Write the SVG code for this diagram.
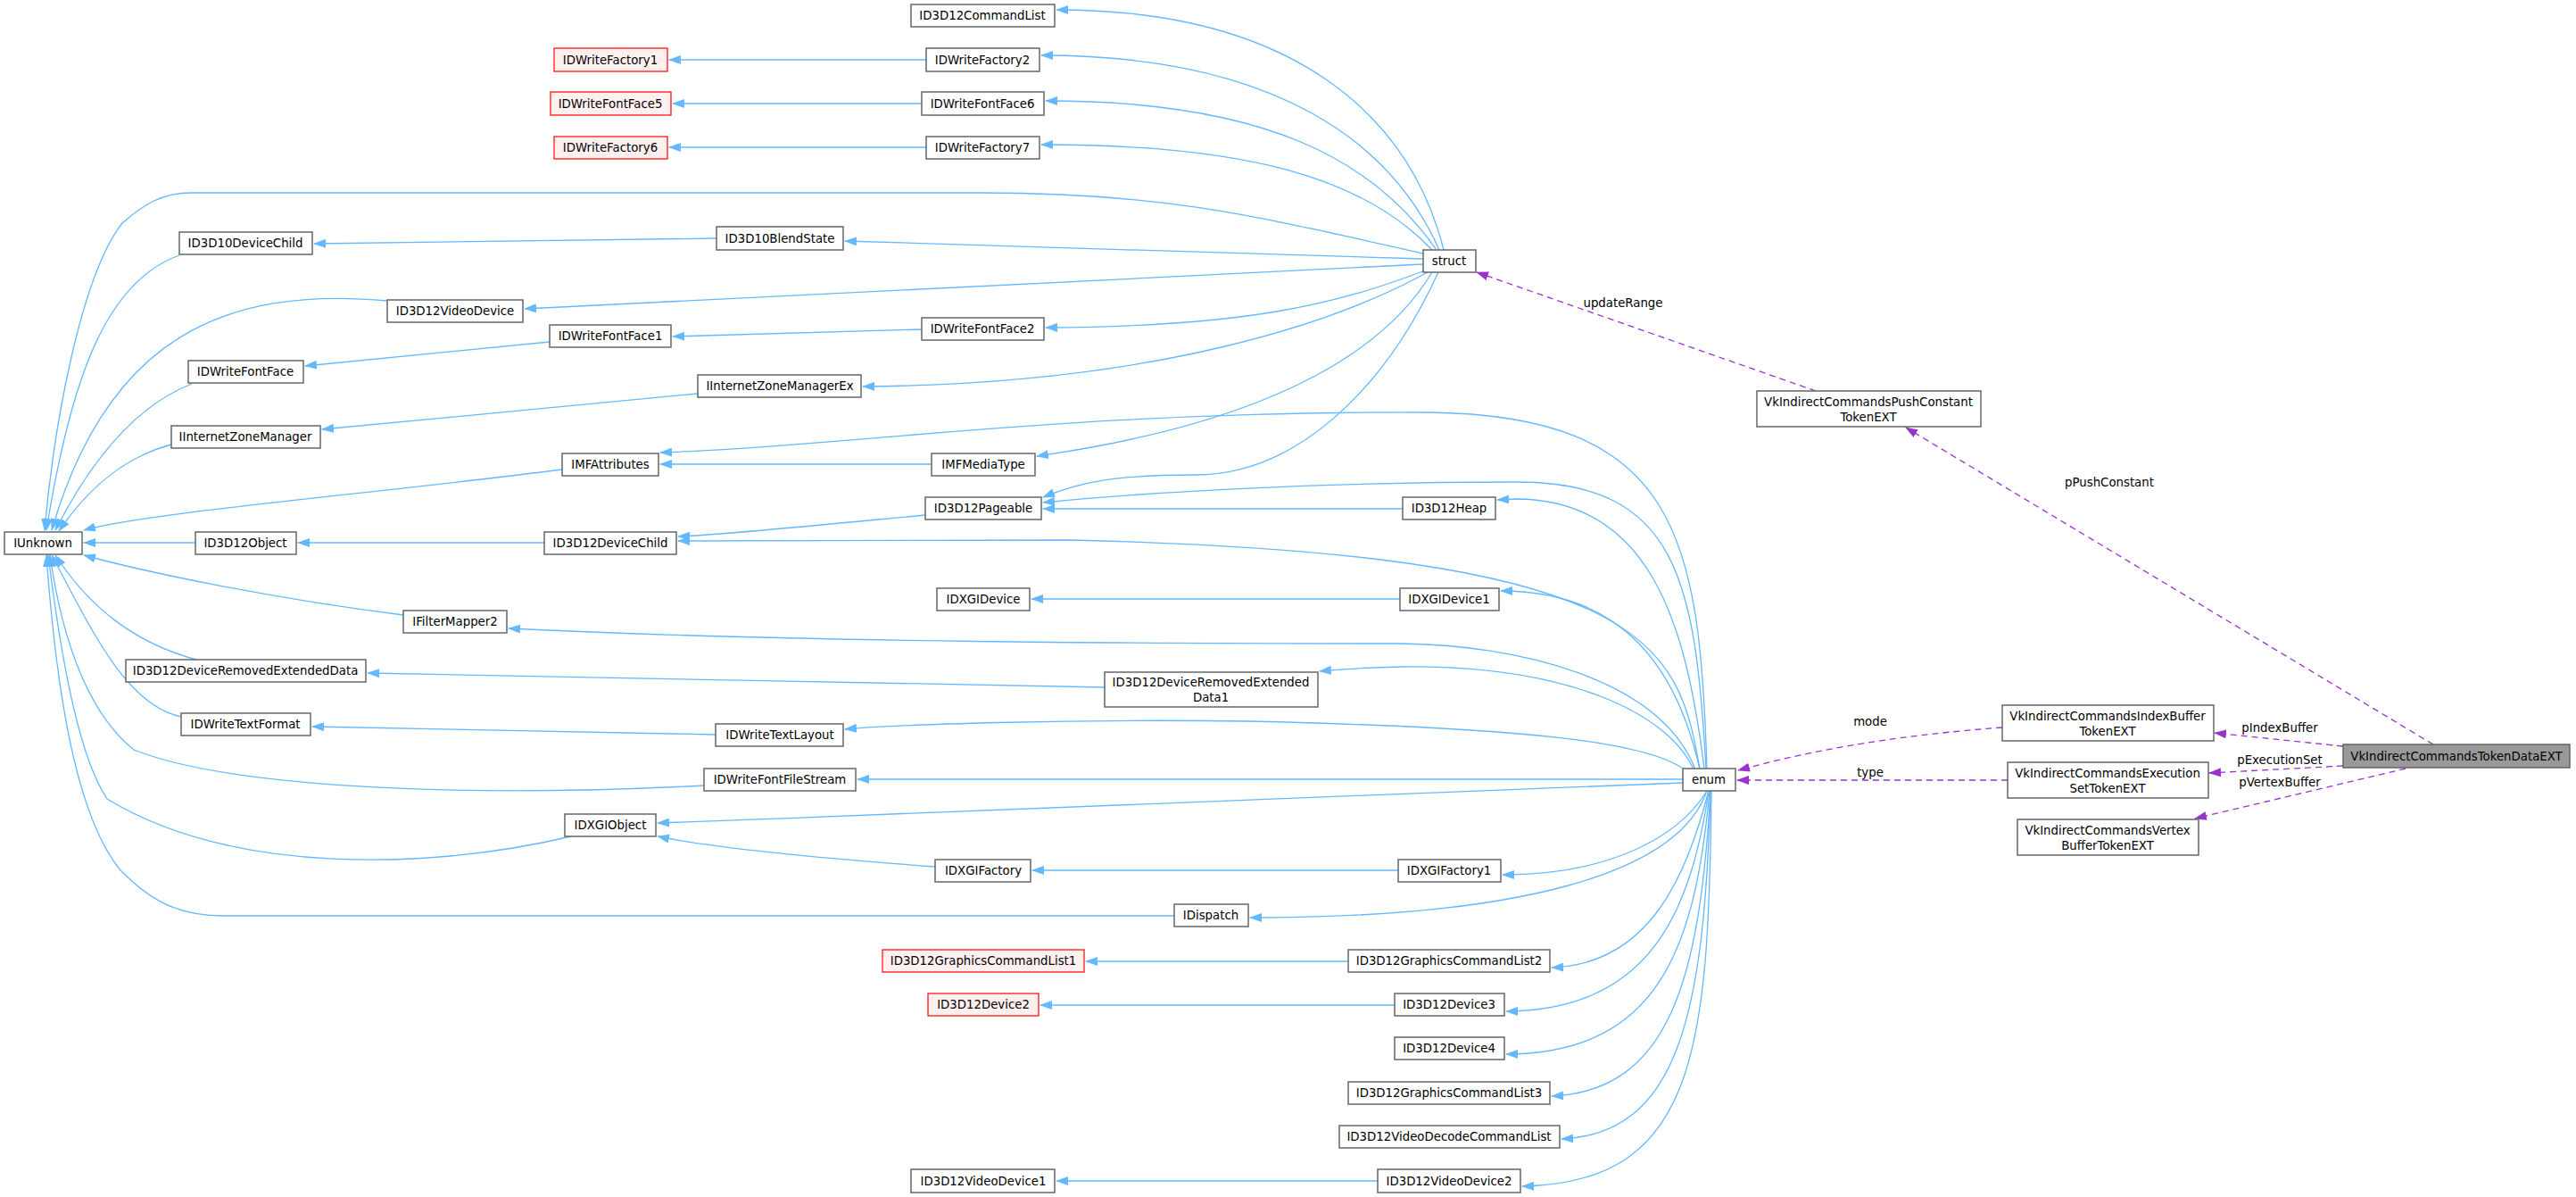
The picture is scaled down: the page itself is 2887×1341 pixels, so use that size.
<svg xmlns="http://www.w3.org/2000/svg" width="2887" height="1341" viewBox="0 0 2887 1341">
<style>
.n rect{fill:#fff;stroke:#666;stroke-width:1.5}
.r rect{fill:#fff0f0;stroke:#ff0000;stroke-width:1.2}
.g rect{fill:#999;stroke:#666;stroke-width:1.5}
text{font-family:"DejaVu Sans",sans-serif;font-size:13.3px;fill:#000;text-anchor:middle}
.e path{fill:none;stroke:#63b8ff;stroke-width:1.3;marker-end:url(#ba)}
.d path{fill:none;stroke:#9a32cd;stroke-width:1.3;stroke-dasharray:7,5;marker-end:url(#pa)}
</style>
<defs>
<marker id="ba" viewBox="0 0 14 10" refX="13" refY="5" markerWidth="14" markerHeight="10" markerUnits="userSpaceOnUse" orient="auto"><path d="M0,0L14,5L0,10z" fill="#63b8ff"/></marker>
<marker id="pa" viewBox="0 0 14 10" refX="13" refY="5" markerWidth="14" markerHeight="10" markerUnits="userSpaceOnUse" orient="auto"><path d="M0,0L14,5L0,10z" fill="#9a32cd"/></marker>
</defs>
<rect width="2887" height="1341" fill="#fff"/>
<g id="edges">
<g class="e">
<path d="M1038,67L750,67"/>
<path d="M1033,116L754,116"/>
<path d="M1038,165L750,165"/>
<path d="M1618,280C1580,130 1450,11 1184,11"/>
<path d="M1613,280C1560,160 1430,62 1167,62"/>
<path d="M1610,280C1540,180 1420,113 1172,113"/>
<path d="M1606,281C1530,200 1400,162 1167,162"/>
<path d="M1595,284C1400,240 1300,216 1100,216L215,216C180,216 160,230 137,250C90,310 60,480 50,594"/>
<path d="M1595,290L947,270"/>
<path d="M1595,296L588,346"/>
<path d="M1597,303C1500,340 1400,366 1172,367"/>
<path d="M1600,305C1500,360 1300,430 967,433"/>
<path d="M1605,305C1560,380 1450,470 1162,511"/>
<path d="M1612,305C1550,440 1450,532 1340,532C1250,532 1210,540 1169,557"/>
<path d="M803,267L352,273"/>
<path d="M616,383L342,410"/>
<path d="M1033,369L754,377"/>
<path d="M782,441L361,481"/>
<path d="M1044,520L740,520"/>
<path d="M1913,861C1905,600 1880,465 1600,462C1200,460 950,500 740,507"/>
<path d="M1912,861C1900,650 1880,540 1700,540C1500,540 1300,550 1169,563"/>
<path d="M1910,861C1890,700 1850,560 1700,559L1678,560"/>
<path d="M1572,570L1169,570"/>
<path d="M1037,577C900,590 800,600 760,601"/>
<path d="M1905,861C1880,720 1850,620 1200,605L760,606"/>
<path d="M610,608L334,608"/>
<path d="M1905,862C1880,750 1820,662 1682,662"/>
<path d="M1569,671L1156,671"/>
<path d="M1900,862C1860,760 1700,722 1568,721C1300,721 900,720 570,704"/>
<path d="M1898,862C1870,800 1760,745 1570,747C1520,748 1500,750 1479,752"/>
<path d="M1238,770L412,754"/>
<path d="M1890,864C1850,830 1700,815 1400,808C1200,805 1000,812 947,817"/>
<path d="M802,823L350,814"/>
<path d="M1886,873L961,873"/>
<path d="M1886,877C1700,885 1200,905 737,922"/>
<path d="M1048,971C900,960 800,950 737,937"/>
<path d="M1567,975L1157,975"/>
<path d="M1913,886C1880,940 1800,980 1684,980"/>
<path d="M1913,886C1880,980 1700,1028 1401,1028"/>
<path d="M1915,886C1890,980 1850,1080 1739,1084"/>
<path d="M1511,1077L1217,1077"/>
<path d="M1915,886C1895,1020 1850,1132 1688,1133"/>
<path d="M1563,1126L1166,1126"/>
<path d="M1916,886C1900,1060 1860,1180 1688,1181"/>
<path d="M1917,886C1905,1100 1870,1222 1739,1228"/>
<path d="M1917,886C1910,1140 1880,1270 1750,1276"/>
<path d="M1918,886C1915,1180 1900,1325 1706,1329"/>
<path d="M1544,1323L1184,1323"/>
<path d="M201,286C120,315 80,420 52,594"/>
<path d="M434,337C250,320 120,380 58,594"/>
<path d="M215,430C150,455 100,520 62,594"/>
<path d="M192,498C140,512 100,545 66,595"/>
<path d="M630,526C400,555 160,575 94,594"/>
<path d="M219,608L94,608"/>
<path d="M452,689C300,670 160,640 94,622"/>
<path d="M220,739C150,720 100,680 62,622"/>
<path d="M203,803C140,790 100,700 58,622"/>
<path d="M789,880C500,895 250,880 150,840C100,800 70,720 56,622"/>
<path d="M640,937C480,975 260,980 120,895C90,850 70,750 54,622"/>
<path d="M1316,1026L250,1026C190,1026 160,1000 135,975C90,920 65,800 52,622"/>
</g>
<g class="d">
<path d="M2035,438L1655,305"/>
<path d="M2727,834L2136,479"/>
<path d="M2244,815C2150,822 2050,835 1948,863"/>
<path d="M2250,874L1947,874"/>
<path d="M2626,836L2482,821"/>
<path d="M2626,858L2476,866"/>
<path d="M2696,861L2460,917"/>
</g>
<text x="1819" y="344">updateRange</text>
<text x="2364" y="545">pPushConstant</text>
<text x="2096" y="813">mode</text>
<text x="2096" y="870">type</text>
<text x="2555" y="820">pIndexBuffer</text>
<text x="2555" y="856">pExecutionSet</text>
<text x="2555" y="881">pVertexBuffer</text>
</g>
<g id="IUnknown" class="n"><rect x="5" y="596" width="87" height="25"/><text x="48" y="613">IUnknown</text></g>
<g id="IDWriteFactory1" class="r"><rect x="621" y="54" width="127" height="26"/><text x="684" y="72">IDWriteFactory1</text></g>
<g id="IDWriteFontFace5" class="r"><rect x="617" y="103" width="135" height="26"/><text x="684" y="121">IDWriteFontFace5</text></g>
<g id="IDWriteFactory6" class="r"><rect x="621" y="153" width="127" height="25"/><text x="684" y="170">IDWriteFactory6</text></g>
<g id="ID3D10DeviceChild" class="n"><rect x="201" y="260" width="149" height="25"/><text x="275" y="277">ID3D10DeviceChild</text></g>
<g id="ID3D12VideoDevice" class="n"><rect x="434" y="336" width="152" height="25"/><text x="510" y="353">ID3D12VideoDevice</text></g>
<g id="IDWriteFontFace1" class="n"><rect x="616" y="364" width="136" height="25"/><text x="684" y="381">IDWriteFontFace1</text></g>
<g id="IDWriteFontFace" class="n"><rect x="211" y="404" width="129" height="25"/><text x="275" y="421">IDWriteFontFace</text></g>
<g id="IInternetZoneManager" class="n"><rect x="192" y="477" width="167" height="25"/><text x="275" y="494">IInternetZoneManager</text></g>
<g id="IMFAttributes" class="n"><rect x="630" y="508" width="108" height="25"/><text x="684" y="525">IMFAttributes</text></g>
<g id="ID3D12Object" class="n"><rect x="219" y="596" width="113" height="25"/><text x="275" y="613">ID3D12Object</text></g>
<g id="ID3D12DeviceChild" class="n"><rect x="610" y="596" width="148" height="25"/><text x="684" y="613">ID3D12DeviceChild</text></g>
<g id="IFilterMapper2" class="n"><rect x="452" y="684" width="116" height="25"/><text x="510" y="701">IFilterMapper2</text></g>
<g id="ID3D12DeviceRemovedExtendedData" class="n"><rect x="141" y="739" width="269" height="25"/><text x="275" y="756">ID3D12DeviceRemovedExtendedData</text></g>
<g id="IDWriteTextFormat" class="n"><rect x="203" y="799" width="145" height="25"/><text x="275" y="816">IDWriteTextFormat</text></g>
<g id="IDXGIObject" class="n"><rect x="633" y="912" width="102" height="25"/><text x="684" y="929">IDXGIObject</text></g>
<g id="ID3D12CommandList" class="n"><rect x="1021" y="5" width="161" height="25"/><text x="1101" y="22">ID3D12CommandList</text></g>
<g id="IDWriteFactory2" class="n"><rect x="1038" y="54" width="127" height="26"/><text x="1101" y="72">IDWriteFactory2</text></g>
<g id="IDWriteFontFace6" class="n"><rect x="1033" y="103" width="137" height="26"/><text x="1101" y="121">IDWriteFontFace6</text></g>
<g id="IDWriteFactory7" class="n"><rect x="1038" y="153" width="127" height="25"/><text x="1101" y="170">IDWriteFactory7</text></g>
<g id="ID3D10BlendState" class="n"><rect x="803" y="254" width="142" height="26"/><text x="874" y="272">ID3D10BlendState</text></g>
<g id="IDWriteFontFace2" class="n"><rect x="1033" y="356" width="137" height="25"/><text x="1101" y="373">IDWriteFontFace2</text></g>
<g id="IInternetZoneManagerEx" class="n"><rect x="782" y="420" width="183" height="25"/><text x="874" y="437">IInternetZoneManagerEx</text></g>
<g id="IMFMediaType" class="n"><rect x="1044" y="508" width="116" height="25"/><text x="1102" y="525">IMFMediaType</text></g>
<g id="ID3D12Pageable" class="n"><rect x="1037" y="557" width="130" height="25"/><text x="1102" y="574">ID3D12Pageable</text></g>
<g id="IDXGIDevice" class="n"><rect x="1050" y="659" width="104" height="25"/><text x="1102" y="676">IDXGIDevice</text></g>
<g id="ID3D12DeviceRemovedExtendedData1" class="n"><rect x="1238" y="753" width="239" height="39"/><text x="1357" y="769">ID3D12DeviceRemovedExtended</text><text x="1357" y="786">Data1</text></g>
<g id="IDWriteTextLayout" class="n"><rect x="802" y="811" width="143" height="25"/><text x="874" y="828">IDWriteTextLayout</text></g>
<g id="IDWriteFontFileStream" class="n"><rect x="789" y="861" width="170" height="25"/><text x="874" y="878">IDWriteFontFileStream</text></g>
<g id="IDXGIFactory" class="n"><rect x="1048" y="963" width="107" height="25"/><text x="1102" y="980">IDXGIFactory</text></g>
<g id="IDispatch" class="n"><rect x="1316" y="1013" width="83" height="25"/><text x="1357" y="1030">IDispatch</text></g>
<g id="ID3D12GraphicsCommandList1" class="r"><rect x="989" y="1064" width="226" height="25"/><text x="1102" y="1081">ID3D12GraphicsCommandList1</text></g>
<g id="ID3D12Device2" class="r"><rect x="1040" y="1113" width="124" height="25"/><text x="1102" y="1130">ID3D12Device2</text></g>
<g id="ID3D12VideoDevice1" class="n"><rect x="1021" y="1310" width="161" height="26"/><text x="1102" y="1328">ID3D12VideoDevice1</text></g>
<g id="ID3D12Heap" class="n"><rect x="1572" y="557" width="104" height="25"/><text x="1624" y="574">ID3D12Heap</text></g>
<g id="IDXGIDevice1" class="n"><rect x="1569" y="659" width="111" height="25"/><text x="1624" y="676">IDXGIDevice1</text></g>
<g id="IDXGIFactory1" class="n"><rect x="1567" y="963" width="115" height="25"/><text x="1624" y="980">IDXGIFactory1</text></g>
<g id="ID3D12GraphicsCommandList2" class="n"><rect x="1511" y="1064" width="226" height="25"/><text x="1624" y="1081">ID3D12GraphicsCommandList2</text></g>
<g id="ID3D12Device3" class="n"><rect x="1563" y="1113" width="123" height="25"/><text x="1624" y="1130">ID3D12Device3</text></g>
<g id="ID3D12Device4" class="n"><rect x="1563" y="1162" width="123" height="25"/><text x="1624" y="1179">ID3D12Device4</text></g>
<g id="ID3D12GraphicsCommandList3" class="n"><rect x="1511" y="1212" width="226" height="25"/><text x="1624" y="1229">ID3D12GraphicsCommandList3</text></g>
<g id="ID3D12VideoDecodeCommandList" class="n"><rect x="1501" y="1261" width="247" height="25"/><text x="1624" y="1278">ID3D12VideoDecodeCommandList</text></g>
<g id="ID3D12VideoDevice2" class="n"><rect x="1544" y="1310" width="160" height="26"/><text x="1624" y="1328">ID3D12VideoDevice2</text></g>
<g id="struct" class="n"><rect x="1595" y="280" width="59" height="25"/><text x="1624" y="297">struct</text></g>
<g id="enum" class="n"><rect x="1886" y="861" width="59" height="25"/><text x="1915" y="878">enum</text></g>
<g id="VkIndirectCommandsPushConstantTokenEXT" class="n"><rect x="1969" y="438" width="251" height="40"/><text x="2094" y="455">VkIndirectCommandsPushConstant</text><text x="2094" y="472">TokenEXT</text></g>
<g id="VkIndirectCommandsIndexBufferTokenEXT" class="n"><rect x="2244" y="790" width="237" height="40"/><text x="2362" y="807">VkIndirectCommandsIndexBuffer</text><text x="2362" y="824">TokenEXT</text></g>
<g id="VkIndirectCommandsExecutionSetTokenEXT" class="n"><rect x="2250" y="854" width="225" height="40"/><text x="2362" y="871">VkIndirectCommandsExecution</text><text x="2362" y="888">SetTokenEXT</text></g>
<g id="VkIndirectCommandsVertexBufferTokenEXT" class="n"><rect x="2261" y="918" width="203" height="40"/><text x="2362" y="935">VkIndirectCommandsVertex</text><text x="2362" y="952">BufferTokenEXT</text></g>
<g id="VkIndirectCommandsTokenDataEXT" class="g"><rect x="2626" y="834" width="254" height="26"/><text x="2753" y="852">VkIndirectCommandsTokenDataEXT</text></g>
</svg>
